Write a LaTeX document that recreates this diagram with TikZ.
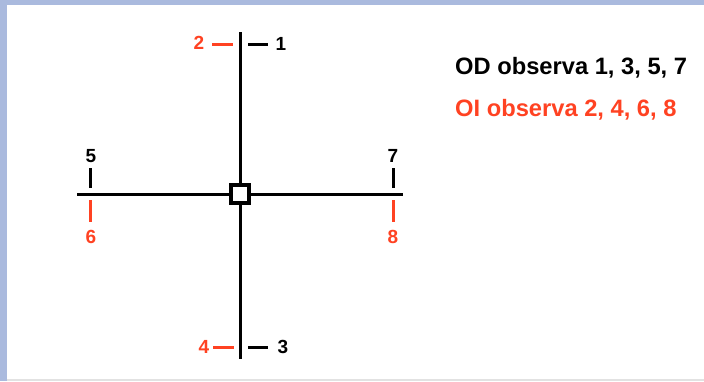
\documentclass[tikz,border=0pt]{standalone}
\usepackage{fontspec}
\setmainfont{Liberation Sans}
\definecolor{obsred}{RGB}{255,66,34}
\definecolor{framebl}{RGB}{170,186,222}
\definecolor{framegr}{RGB}{226,226,226}
\tikzset{
  axis/.style={line width=3pt,black},
  tickblk/.style={line width=3pt,black},
  tickred/.style={line width=3pt,obsred},
  numlbl/.style={font=\fontsize{19}{22}\selectfont\bfseries,inner sep=0pt},
  legend/.style={font=\fontsize{23.7}{28}\selectfont\bfseries,inner sep=0pt,anchor=west}
}
\begin{document}
\begin{tikzpicture}[x=1pt,y=-1pt]
  \useasboundingbox (0,0) rectangle (704,381);
  % Frame
  \fill[framebl] (0,0) rectangle (704,381);
  \fill[white] (7,5) rectangle (704,379);
  \fill[framegr] (7,379) rectangle (704,381);
  % Cross
  \coordinate (top) at (240,32);
  \coordinate (bot) at (240,359);
  \coordinate (lft) at (77,194);
  \coordinate (rgt) at (403,194);
  \draw[axis] (top) -- (bot);
  \draw[axis] (lft) -- (rgt);
  \node[draw,line width=4pt,fill=white,minimum size=18pt,inner sep=0pt] (ctr) at (240,194) {};
  % Vertical ticks
  \node[numlbl,obsred] (n2) at (199,43) {2};
  \node[numlbl] (n1) at (281,44) {1};
  \node[numlbl,obsred] (n4) at (204,347) {4};
  \node[numlbl] (n3) at (283,347) {3};
  \draw[tickred] (212,44) -- (233,44);
  \draw[tickblk] (248,44) -- (268,44);
  \draw[tickred] (213,347) -- (234,347);
  \draw[tickblk] (248,347) -- (268,347);
  % Horizontal ticks
  \node[numlbl] (n5) at (91,156) {5};
  \node[numlbl,obsred] (n6) at (91,237) {6};
  \node[numlbl] (n7) at (393,156) {7};
  \node[numlbl,obsred] (n8) at (393,237) {8};
  \draw[tickblk] (90,168) -- (90,188);
  \draw[tickred] (90,200) -- (90,222);
  \draw[tickblk] (393,168) -- (393,188);
  \draw[tickred] (393,200) -- (393,222);
  % Legend
  \node[legend] (od) at (455,68) {OD observa 1, 3, 5, 7};
  \node[legend,obsred] (oi) at (455,110) {OI observa 2, 4, 6, 8};
\end{tikzpicture}
\end{document}
